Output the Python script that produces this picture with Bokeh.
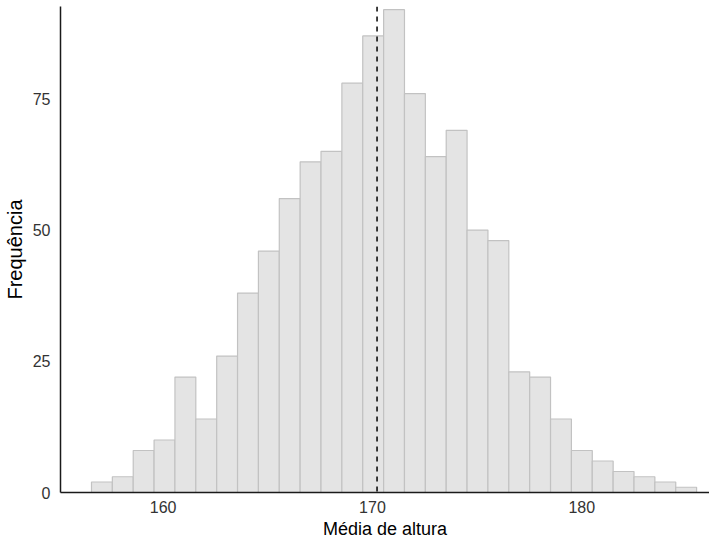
from bokeh.plotting import figure
from bokeh.models import Range1d, Span, FixedTicker, ColumnDataSource
from bokeh.embed import file_html
from bokeh.resources import INLINE

# Data
bin_start = 156.58
bin_width = 0.9967
counts = [2, 3, 8, 10, 22, 14, 26, 38, 46, 56, 63, 65, 78, 87, 92,
          76, 64, 69, 50, 48, 23, 22, 14, 8, 6, 4, 3, 2, 1]
mean_value = 170.22
x_ticks = [160, 170, 180]
y_ticks = [0, 25, 50, 75]
x_title = "Média de altura"
y_title = "Frequência"

lefts = [bin_start + i * bin_width for i in range(len(counts))]
rights = [l + bin_width for l in lefts]
src = ColumnDataSource(dict(left=lefts, right=rights, top=counts, bottom=[0] * len(counts)))

p = figure(width=709, height=541, output_backend="svg", toolbar_location=None,
           x_range=Range1d(155.1, 186.1), y_range=Range1d(0, 92.6),
           min_border_left=60, min_border_right=0, min_border_top=6, min_border_bottom=49)

p.quad(left="left", right="right", top="top", bottom="bottom", source=src,
       fill_color="#e4e4e4", line_color="#c2c2c2", line_width=1.2)

p.add_layout(Span(location=mean_value, dimension="height", line_color="black",
                  line_dash="5 5", line_width=1.5))

p.xgrid.visible = False
p.ygrid.visible = False
p.outline_line_color = None
p.background_fill_color = "white"
p.border_fill_color = "white"

font = "Liberation Sans"
for ax in (p.xaxis[0], p.yaxis[0]):
    ax.major_tick_line_color = None
    ax.minor_tick_line_color = None
    ax.major_tick_out = 0
    ax.major_tick_in = 0
    ax.minor_tick_out = 0
    ax.minor_tick_in = 0
    ax.axis_line_color = "#1a1a1a"
    ax.axis_line_width = 1.5
    ax.major_label_text_font = font
    ax.major_label_text_font_size = "16px"
    ax.major_label_text_color = "#333333"
    ax.axis_label_text_font = font
    ax.axis_label_text_font_style = "normal"
    ax.axis_label_text_color = "black"

p.xaxis[0].ticker = FixedTicker(ticks=x_ticks)
p.yaxis[0].ticker = FixedTicker(ticks=y_ticks)
p.xaxis[0].axis_label = x_title
p.yaxis[0].axis_label = y_title
p.xaxis[0].axis_label_text_font_size = "18px"
p.yaxis[0].axis_label_text_font_size = "20px"
p.xaxis[0].major_label_standoff = 8
p.xaxis[0].axis_label_standoff = 3
p.yaxis[0].major_label_standoff = 10
p.yaxis[0].axis_label_standoff = 4

open("out.html", "w").write(file_html(p, INLINE))
